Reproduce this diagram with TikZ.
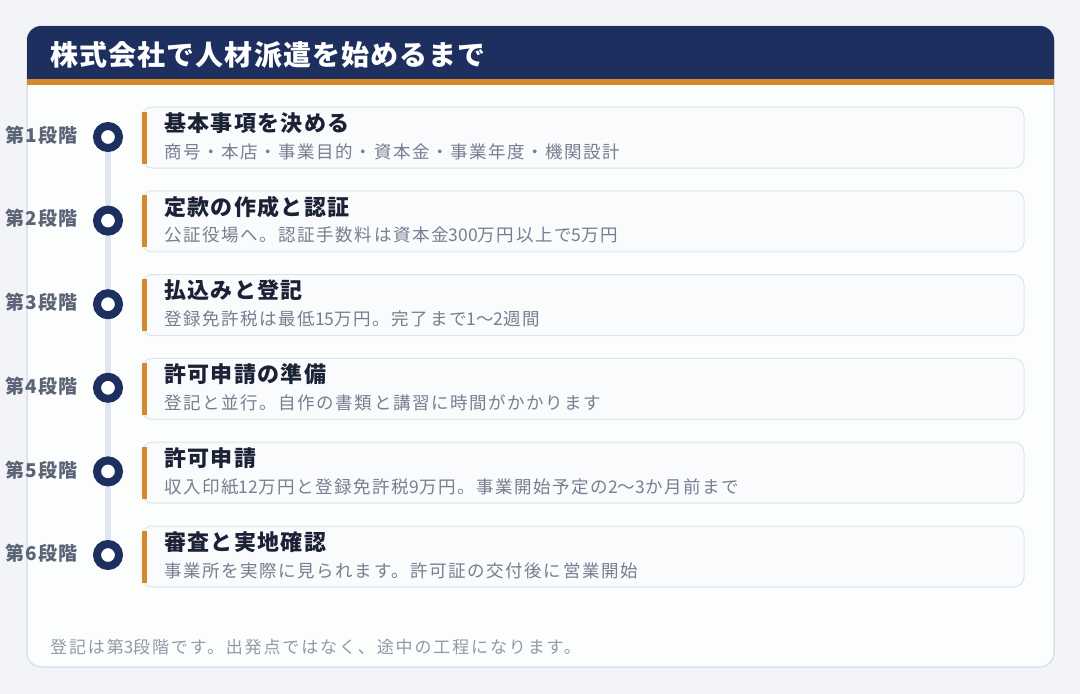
\documentclass[tikz,border=0pt]{standalone}
\usepackage{fontspec}
\setmainfont{Noto Sans CJK JP}
\newfontfamily\hdfont{Noto Sans CJK JP}[LetterSpace=4]
\newfontfamily\ttfnt{Noto Sans CJK JP}[LetterSpace=6]
\newfontfamily\subfnt{Noto Sans CJK JP}[LetterSpace=9]
\newfontfamily\footfnt{Noto Sans CJK JP}[LetterSpace=11]
\newfontfamily\lblfnt{Noto Sans CJK JP}[LetterSpace=6]
\newcommand\nd[1]{{\addfontfeature{LetterSpace=0}#1}}
\definecolor{navy}{HTML}{1C2F5E}
\definecolor{accent}{HTML}{D4892A}
\definecolor{ttlcol}{HTML}{1B2236}
\definecolor{subcol}{HTML}{767E90}
\definecolor{lblcol}{HTML}{5C6478}
\definecolor{footcol}{HTML}{9298A6}
\definecolor{tlcol}{HTML}{E1E5EF}
\definecolor{cardborder}{HTML}{DFE3EE}
\definecolor{cardfill}{HTML}{FAFBFC}
\definecolor{panelfill}{HTML}{FCFDFD}
\definecolor{panelborder}{HTML}{DCE0EB}
\definecolor{pagebg}{HTML}{F3F4F7}
\tikzset{
  card/.style={draw=cardborder, fill=cardfill, line width=1pt, rounded corners=10pt,
    minimum width=882pt, minimum height=61pt, inner sep=0pt},
  bar/.style={fill=accent},
  dotnode/.style={circle, draw=navy, line width=8pt, fill=white, minimum size=22pt, inner sep=0pt},
  tline/.style={draw=tlcol, line width=6pt},
  ttl/.style={anchor=west, inner sep=0pt, text=ttlcol, font=\ttfnt\bfseries\fontsize{22}{26}\selectfont},
  subt/.style={anchor=west, inner sep=0pt, text=subcol, font=\subfnt\fontsize{17.5}{21}\selectfont},
  lbl/.style={inner sep=0pt, text=lblcol, font=\lblfnt\bfseries\fontsize{19}{22}\selectfont},
  foot/.style={anchor=west, inner sep=0pt, text=footcol, font=\footfnt\fontsize{17}{20}\selectfont},
  head/.style={anchor=west, inner sep=0pt, text=white, font=\hdfont\bfseries\fontsize{28}{32}\selectfont}
}
\begin{document}
\begin{tikzpicture}[x=1pt,y=-1pt]
\fill[pagebg] (0,0) rectangle (1080,694);
% panel
\draw[draw=panelborder, fill=panelfill, line width=1.5pt, rounded corners=14pt] (27,26) rectangle (1054,667);
% header
\fill[navy] (27,79) -- (27,40) arc[start angle=180, end angle=270, radius=14] -- (1040,26)
  arc[start angle=270, end angle=360, radius=14] -- (1054,79) -- cycle;
\fill[accent] (27,79) rectangle (1054,85);
\node[head] (title) at (50,55) {株式会社で人材派遣を始めるまで};
% timeline points
\foreach \i in {1,...,6} {
  \coordinate (p\i) at (108, {137+83.6*(\i-1)});
}
\draw[tline] (p1) -- (p6);
% cards
\foreach \i/\t/\s in {
  1/基本事項を決める/商号・本店・事業目的・資本金・事業年度・機関設計,
  2/定款の作成と認証/公証役場へ。認証手数料は資本金\nd{300}万円以上で\nd{5}万円,
  3/払込みと登記/登録免許税は最低\nd{15}万円。完了まで\nd{1}〜\nd{2}週間,
  4/許可申請の準備/登記と並行。自作の書類と講習に時間がかかります,
  5/許可申請/収入印紙\nd{12}万円と登録免許税\nd{9}万円。事業開始予定の\nd{2}〜\nd{3}か月前まで,
  6/審査と実地確認/事業所を実際に見られます。許可証の交付後に営業開始} {
  \node[card] (c\i) at (583, {137.5+83.8*(\i-1)}) {};
  \fill[bar] ([yshift=-5pt]c\i.north west) rectangle ([xshift=5pt,yshift=5pt]c\i.south west);
  \node[ttl] (t\i) at (164, {123+83.8*(\i-1)}) {\t};
  \node[subt] (s\i) at (164, {151.5+83.8*(\i-1)}) {\s};
  \node[dotnode] (d\i) at (p\i) {};
  \node[lbl] (l\i) at (41.5, {135+83.7*(\i-1)}) {第\i 段階};
}
\node[foot] (footer) at (50,647) {登記は第\nd{3}段階です。出発点ではなく、途中の工程になります。};
\end{tikzpicture}
\end{document}
